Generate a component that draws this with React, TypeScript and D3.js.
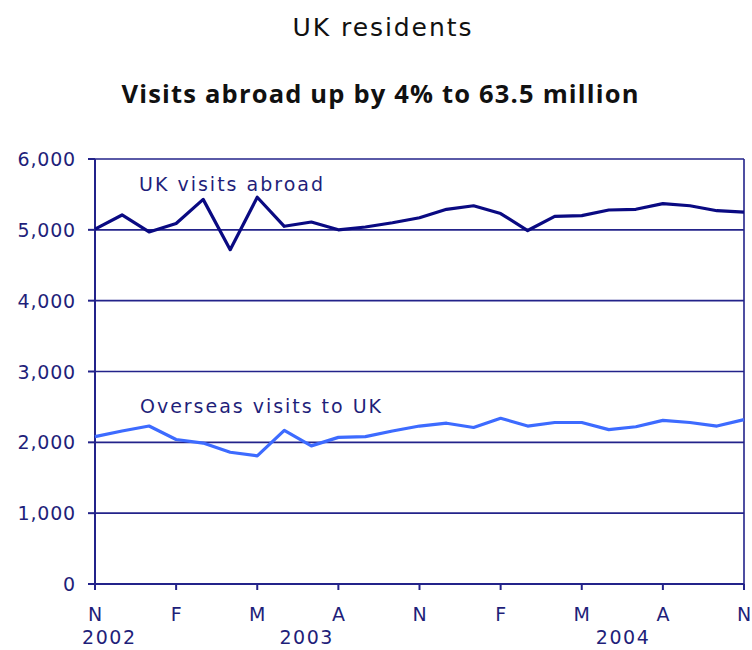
import React from "react";
import * as d3 from "d3";

const ukVisitsAbroad = [5010, 5210, 4970, 5090, 5430, 4720, 5460, 5050, 5110, 5000, 5040, 5100, 5170, 5290, 5340, 5230, 4990, 5190, 5200, 5280, 5290, 5370, 5340, 5270, 5250];
const overseasVisits = [2080, 2160, 2230, 2040, 1990, 1860, 1810, 2170, 1950, 2070, 2080, 2160, 2230, 2270, 2210, 2340, 2230, 2280, 2280, 2180, 2220, 2310, 2280, 2230, 2320];
const monthTicks = ["N", "F", "M", "A", "N", "F", "M", "A", "N"];
const yearLabels = ["2002", "2003", "2004"];
const yearMonthIndex = [0.5, 7.8, 19.5];
const yTicks = [0, 1000, 2000, 3000, 4000, 5000, 6000];

const NAVY = "#1f1f7a";
const AXIS = "#23238a";

export default function App() {
  const left = 95, right = 744, top = 159, bottom = 584;
  const x = d3.scaleLinear().domain([0, ukVisitsAbroad.length - 1]).range([left, right]);
  const y = d3.scaleLinear().domain([0, 6000]).range([bottom, top]);
  const line = d3.line<number>().x((_, i) => x(i)).y((d) => y(d));
  const fmt = d3.format(",");
  const font = "'DejaVu Sans', Verdana, sans-serif";
  const titleFont = "'Open Sans', 'DejaVu Sans', sans-serif";

  return (
    <div style={{ position: "absolute", left: 0, top: 0 }}>
      <svg width={752} height={650} style={{ display: "block", background: "#fff" }}>
        <text x={382} y={36} textAnchor="middle" fontFamily={font} fontSize={25} fill="#111" textLength={179} lengthAdjust="spacing">UK residents</text>
        <text x={380} y={103} textAnchor="middle" fontFamily={titleFont} fontSize={25.5} fontWeight="bold" fill="#111" textLength={517} lengthAdjust="spacing">Visits abroad up by 4% to 63.5 million</text>

        {/* gridlines */}
        {yTicks.filter((t) => t > 0 && t < 6000).map((t) => (
          <line key={t} x1={left} x2={right} y1={y(t)} y2={y(t)} stroke={AXIS} strokeWidth={1.6} />
        ))}
        {/* frame */}
        <line x1={left} x2={right} y1={top} y2={top} stroke={AXIS} strokeWidth={1.6} />
        <line x1={right} x2={right} y1={top} y2={bottom} stroke={AXIS} strokeWidth={1.6} />
        <line x1={left} x2={left} y1={top} y2={bottom + 6} stroke={AXIS} strokeWidth={2} />
        <line x1={left - 7} x2={right} y1={bottom} y2={bottom} stroke={AXIS} strokeWidth={2} />

        {/* y ticks */}
        {yTicks.map((t) => (
          <g key={t}>
            <line x1={left - 7} x2={left} y1={y(t)} y2={y(t)} stroke={AXIS} strokeWidth={2} />
            <text x={76} y={y(t) + 7} textAnchor="end" fontFamily={font} fontSize={19} fill={NAVY} letterSpacing={0.8}>{fmt(t)}</text>
          </g>
        ))}

        {/* x ticks */}
        {monthTicks.map((m, k) => (
          <g key={k}>
            <line x1={x(k * 3)} x2={x(k * 3)} y1={bottom} y2={bottom + 6} stroke={AXIS} strokeWidth={2} />
            <text x={x(k * 3)} y={621} textAnchor="middle" fontFamily={font} fontSize={19} fill={NAVY}>{m}</text>
          </g>
        ))}
        {yearLabels.map((yl, k) => (
          <text key={yl} x={x(yearMonthIndex[k])} y={644} textAnchor="middle" fontFamily={font} fontSize={19} fill={NAVY} textLength={53} lengthAdjust="spacing">{yl}</text>
        ))}

        {/* lines */}
        <path d={line(overseasVisits) || ""} fill="none" stroke="#3d6bff" strokeWidth={3.2} strokeLinejoin="round" />
        <path d={line(ukVisitsAbroad) || ""} fill="none" stroke="#0a0a82" strokeWidth={3.2} strokeLinejoin="round" />

        <text x={139} y={191} fontFamily={font} fontSize={19} fill={NAVY} textLength={184} lengthAdjust="spacing">UK visits abroad</text>
        <text x={140} y={413} fontFamily={font} fontSize={19} fill={NAVY} textLength={241} lengthAdjust="spacing">Overseas visits to UK</text>
      </svg>
    </div>
  );
}
